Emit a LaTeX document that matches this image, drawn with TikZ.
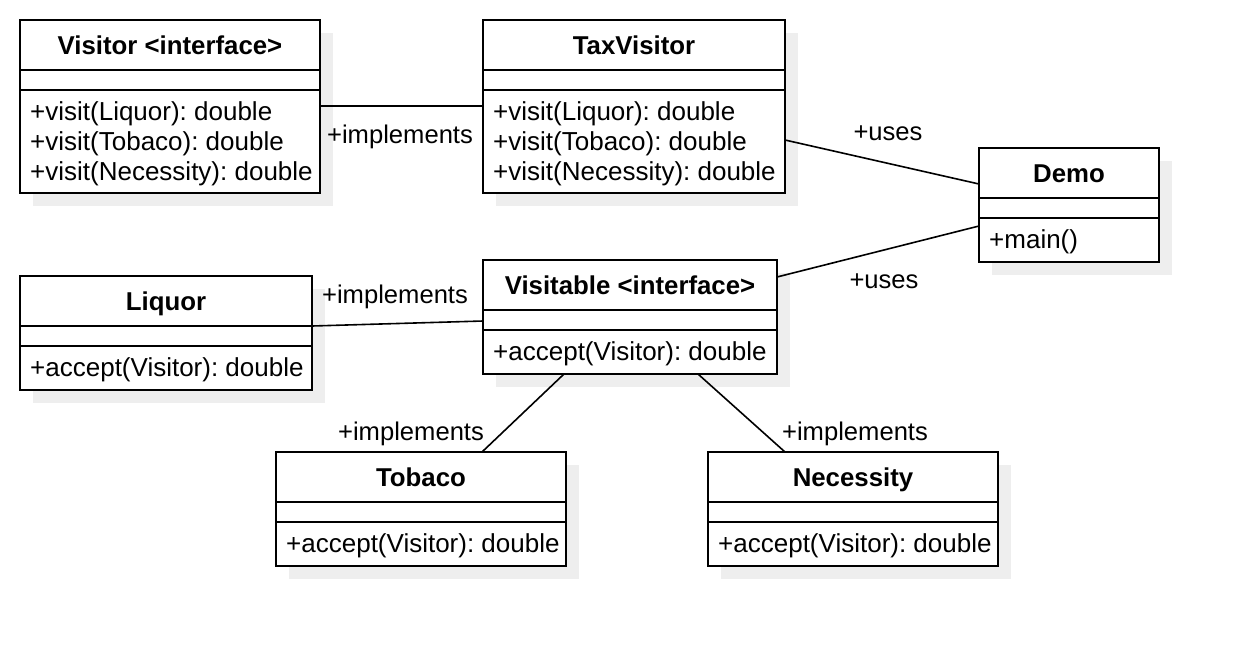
\documentclass[tikz,border=0pt]{standalone}
\usepackage{fontspec}
\setmainfont{Liberation Sans}
\usetikzlibrary{calc}
\frenchspacing
\definecolor{shadowc}{HTML}{EEEEEE}
\tikzset{
  clsbox/.style={draw=black, line width=2pt, fill=white, rectangle, inner sep=0pt, outer sep=0pt},
  boxline/.style={draw=black, line width=2pt},
  titletext/.style={font=\fontsize{25.8}{30}\selectfont\bfseries\frenchspacing, inner sep=0pt, anchor=base},
  bodytext/.style={font=\fontsize{26}{30}\selectfont\frenchspacing, align=left, inner sep=0pt, anchor=west},
  conn/.style={draw=black, line width=1.6pt},
  lbl/.style={font=\fontsize{25.6}{30}\selectfont, inner sep=0pt, anchor=base},
}
\newcommand\umlbox[7]{%
  \fill[shadowc] (#2+13,#3+13) rectangle ++(#4,#5);
  \node[clsbox, minimum width=#4pt, minimum height=#5pt, anchor=north west] (#1) at (#2,#3) {};
  \node[titletext] (#1-title) at ($(#1.north)+(0,34)$) {#6};
  \draw[boxline] ([yshift=-50pt]#1.north west) -- ([yshift=-50pt]#1.north east);
  \draw[boxline] ([yshift=-70pt]#1.north west) -- ([yshift=-70pt]#1.north east);
  \node[bodytext] (#1-body) at ($(#1.north west)+(10,{(70+#5)/2+2})$) {#7};
}
\begin{document}
\begin{tikzpicture}[x=1pt, y=-1pt]
\useasboundingbox (0,0) rectangle (1238,646);
\fill[white] (0,0) rectangle (1238,646);

\umlbox{visitor}{20}{20}{300}{173}{Visitor <interface>}{+visit(Liquor): double\\+visit(Tobaco): double\\+visit(Necessity): double}
\umlbox{taxvisitor}{483}{20}{302}{173}{TaxVisitor}{+visit(Liquor): double\\+visit(Tobaco): double\\+visit(Necessity): double}
\umlbox{demo}{979}{148}{180}{114}{Demo}{+main()}
\umlbox{liquor}{20}{276}{292}{114}{Liquor}{+accept(Visitor): double}
\umlbox{visitable}{483}{260}{294}{114}{Visitable <interface>}{+accept(Visitor): double}
\umlbox{tobaco}{276}{452}{290}{114}{Tobaco}{+accept(Visitor): double}
\umlbox{necessity}{708}{452}{290}{114}{Necessity}{+accept(Visitor): double}

% connectors
\draw[conn] ([yshift=-86pt]visitor.north east) -- ([yshift=-86pt]taxvisitor.north west);
\draw[conn] ([yshift=-120pt]taxvisitor.north east) -- ([yshift=-36pt]demo.north west);
\draw[conn] ([yshift=-17pt]visitable.north east) -- ([yshift=-78pt]demo.north west);
\draw[conn] ([yshift=-50pt]liquor.north east) -- ([yshift=-61pt]visitable.north west);
\draw[conn] ([xshift=81pt]visitable.south west) -- ([xshift=206pt]tobaco.north west);
\draw[conn] ([xshift=215pt]visitable.south west) -- ([xshift=77pt]necessity.north west);

% labels
\node[lbl] (l1) at (400,143) {+implements};
\node[lbl] (l2) at (888,140) {+uses};
\node[lbl] (l3) at (884,288) {+uses};
\node[lbl] (l4) at (395,303) {+implements};
\node[lbl] (l5) at (411,440) {+implements};
\node[lbl] (l6) at (855,440) {+implements};
\end{tikzpicture}
\end{document}
